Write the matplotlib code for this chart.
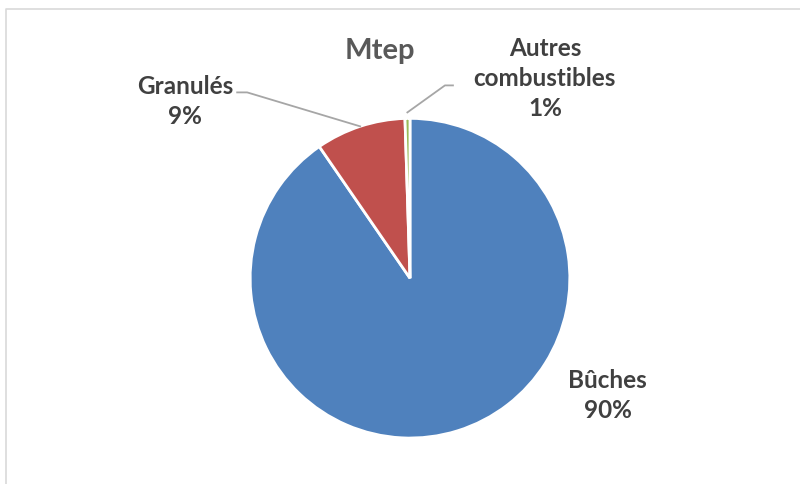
import numpy as np
import matplotlib
matplotlib.use("Agg")
import matplotlib.pyplot as plt

plt.rcParams['font.family'] = ['Lato', 'DejaVu Sans']

labels = ['Bûches', 'Granulés', 'Autres\ncombustibles']
values = [90.4, 9.1, 0.5]
pct_labels = ['90%', '9%', '1%']
colors = ['#4F81BD', '#C0504D', '#9BBB59']

W, H = 800, 485
fig = plt.figure(figsize=(8, 4.85), dpi=100)
ax = fig.add_axes([0, 0, 1, 0.999])

cx, cy, r = 410, H - 279, 160
wedges, _ = ax.pie(values, colors=colors, startangle=90, counterclock=False,
                   center=(cx, cy), radius=r,
                   wedgeprops=dict(edgecolor='white', linewidth=2))
ax.set_xlim(0, W)
ax.set_ylim(0, H)
ax.set_aspect('equal')
ax.axis('off')

# chart frame
ax.plot([6, 6, W + 5], [-5, H - 10, H - 10], color='#d9d9d9', lw=1.2, clip_on=False)

ax.text(380, H - 51, 'Mtep', ha='center', va='center', fontsize=21,
        fontweight='bold', color='#595959')

txt = dict(ha='center', va='center', fontsize=17.5, fontweight='bold',
           color='#404040', linespacing=1.36)
ax.text(608, H - 395, labels[0] + '\n' + pct_labels[0], **txt)
ax.text(185, H - 101, labels[1] + '\n' + pct_labels[1], **txt)
ax.text(545, H - 78, labels[2] + '\n' + pct_labels[2], **txt)

# leader lines to wedge mid-angles
def edge_point(w, rr):
    a = np.deg2rad((w.theta1 + w.theta2) / 2)
    return cx + rr * np.cos(a), cy + rr * np.sin(a)

x1, y1 = edge_point(wedges[1], r)
ax.plot([237, 247, x1], [H - 93, H - 93, y1], color='#a6a6a6', lw=1.3)
x2, y2 = edge_point(wedges[2], r + 6)
ax.plot([453, 445, x2], [H - 86, H - 86, y2], color='#a6a6a6', lw=1.3)

fig.savefig('out.png', dpi=100)
